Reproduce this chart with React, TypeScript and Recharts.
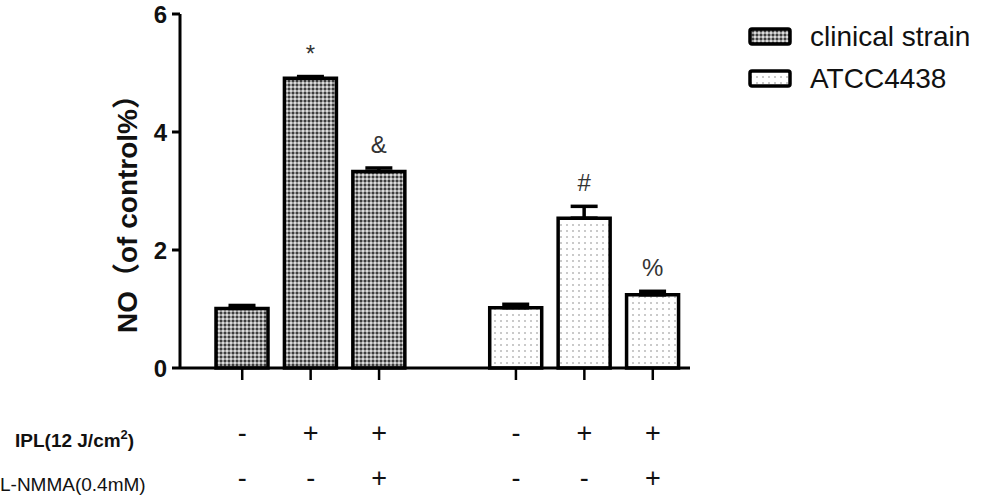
import { BarChart, Bar, XAxis, YAxis, ErrorBar, Cell, LabelList } from 'recharts';

// one slot per bar, with an empty slot between the two strains
const categories = ['CS-ctrl', 'CS-IPL', 'CS-IPL+LNMMA', 'gap', 'ATCC-ctrl', 'ATCC-IPL', 'ATCC-IPL+LNMMA'];
const strains = ['clinical', 'clinical', 'clinical', '', 'atcc', 'atcc', 'atcc'];
const means = [1.01, 4.91, 3.33, null, 1.02, 2.54, 1.24];
const sems = [0.05, 0.03, 0.06, null, 0.06, 0.2, 0.06];
const marks = ['', '*', '&', '', '', '#', '%'];
const iplSigns = ['-', '+', '+', '', '-', '+', '+'];
const lnmmaSigns = ['-', '-', '+', '', '-', '-', '+'];
const yTicks = [0, 2, 4, 6];
const legendItems = [
    { key: 'clinical', label: 'clinical strain' },
    { key: 'atcc', label: 'ATCC4438' },
];

const data = categories.map((c, i) => ({
    name: c,
    value: means[i],
    err: sems[i] == null ? null : [0, sems[i]],
}));

const FONT = '"Liberation Sans", Arial, "Noto Sans CJK SC", sans-serif';

function SignTick(props: any) {
    const { x, y, index } = props;
    if (!iplSigns[index]) return null;
    return (
        <g>
            <line x1={x} x2={x} y1={y} y2={y + 12} stroke='#000' strokeWidth={2.5} />
            <text x={x} y={y + 74} textAnchor='middle' fontSize={27} fontFamily={FONT} fill='#111'>
                {iplSigns[index]}
            </text>
            <text x={x} y={y + 119} textAnchor='middle' fontSize={27} fontFamily={FONT} fill='#111'>
                {lnmmaSigns[index]}
            </text>
        </g>
    );
}

// value here is the category index, so marks/sems line up with the gap slot
function MarkLabel(props: any) {
    const { x, y, width, height, value } = props;
    const m = marks[value];
    const mean = means[value];
    if (!m || !mean) return null;
    const errPx = (sems[value] || 0) * (height / mean);
    return (
        <text x={x + width / 2} y={y - errPx - 15} textAnchor='middle' fontSize={24} fontFamily={FONT} fill='#333'>
            {m}
        </text>
    );
}

function YLabel() {
    return (
        <text
            x={127}
            y={207}
            transform='rotate(-90 127 207)'
            textAnchor='middle'
            dominantBaseline='central'
            fontSize={28}
            fontWeight='bold'
            fontFamily={FONT}
            fill='#111'
        >
            NO（of control%）
        </text>
    );
}

function LegendBox() {
    return (
        <div style={{ position: 'absolute', left: 748, top: 16, fontFamily: FONT }}>
            {legendItems.map((it) => (
                <div key={it.key} style={{ display: 'flex', alignItems: 'center', height: 42 }}>
                    <svg width={46} height={22}>
                        <rect x={2} y={3} width={40} height={15} rx={2} fill={`url(#pat-${it.key})`} stroke='#000' strokeWidth={3.5} />
                    </svg>
                    <span style={{ marginLeft: 16, fontSize: 28, color: '#111' }}>{it.label}</span>
                </div>
            ))}
        </div>
    );
}

export default function App() {
    return (
        <div style={{ position: 'relative', width: 987, height: 501, background: '#fff' }}>
            <style>{'body{margin:0}'}</style>
            <BarChart
                width={987}
                height={501}
                data={data}
                margin={{ top: 14, right: 297, bottom: 0, left: 100 }}
            >
                <defs>
                    <pattern id='pat-clinical' width={4} height={4} patternUnits='userSpaceOnUse'>
                        <rect width={4} height={4} fill='#9a9a9a' />
                        <circle cx={1} cy={1} r={0.9} fill='#111' />
                        <circle cx={3} cy={3} r={0.9} fill='#fafafa' />
                    </pattern>
                    <pattern id='pat-atcc' width={6} height={6} patternUnits='userSpaceOnUse'>
                        <rect width={6} height={6} fill='#fff' />
                        <circle cx={3} cy={3} r={0.8} fill='#888' />
                    </pattern>
                </defs>
                <XAxis
                    dataKey='name'
                    interval={0}
                    tickSize={0}
                    tickMargin={0}
                    tickLine={false}
                    tick={<SignTick />}
                    padding={{ left: 28, right: 3 }}
                    axisLine={{ stroke: '#000', strokeWidth: 3 }}
                    height={133}
                />
                <YAxis
                    width={80}
                    domain={[0, 6]}
                    ticks={yTicks}
                    tickSize={8}
                    tickMargin={5}
                    tick={{ fill: '#111', fontSize: 24, fontWeight: 'bold', fontFamily: FONT }}
                    tickLine={{ stroke: '#000', strokeWidth: 3 }}
                    axisLine={{ stroke: '#000', strokeWidth: 3 }}
                    label={<YLabel />}
                />
                <Bar dataKey='value' barSize={52} stroke='#000' strokeWidth={3.5} isAnimationActive={false}>
                    {data.map((d, i) => (
                        <Cell key={d.name} fill={`url(#pat-${strains[i] || 'atcc'})`} />
                    ))}
                    <ErrorBar dataKey='err' width={13.5} stroke='#000' strokeWidth={3.5} direction='y' />
                    <LabelList dataKey={(d: any) => categories.indexOf(d.name)} content={<MarkLabel />} />
                </Bar>
            </BarChart>
            <LegendBox />
            <svg width={987} height={501} style={{ position: 'absolute', left: 0, top: 0, pointerEvents: 'none' }}>
                <text x={15} y={447} fontSize={19} fontWeight='bold' fontFamily={FONT} fill='#111'>
                    IPL(12 J/cm<tspan dy={-8} fontSize={13}>2</tspan><tspan dy={8}>)</tspan>
                </text>
                <text x={0} y={491} fontSize={19} fontFamily={FONT} fill='#111'>
                    L-NMMA(0.4mM)
                </text>
            </svg>
        </div>
    );
}
